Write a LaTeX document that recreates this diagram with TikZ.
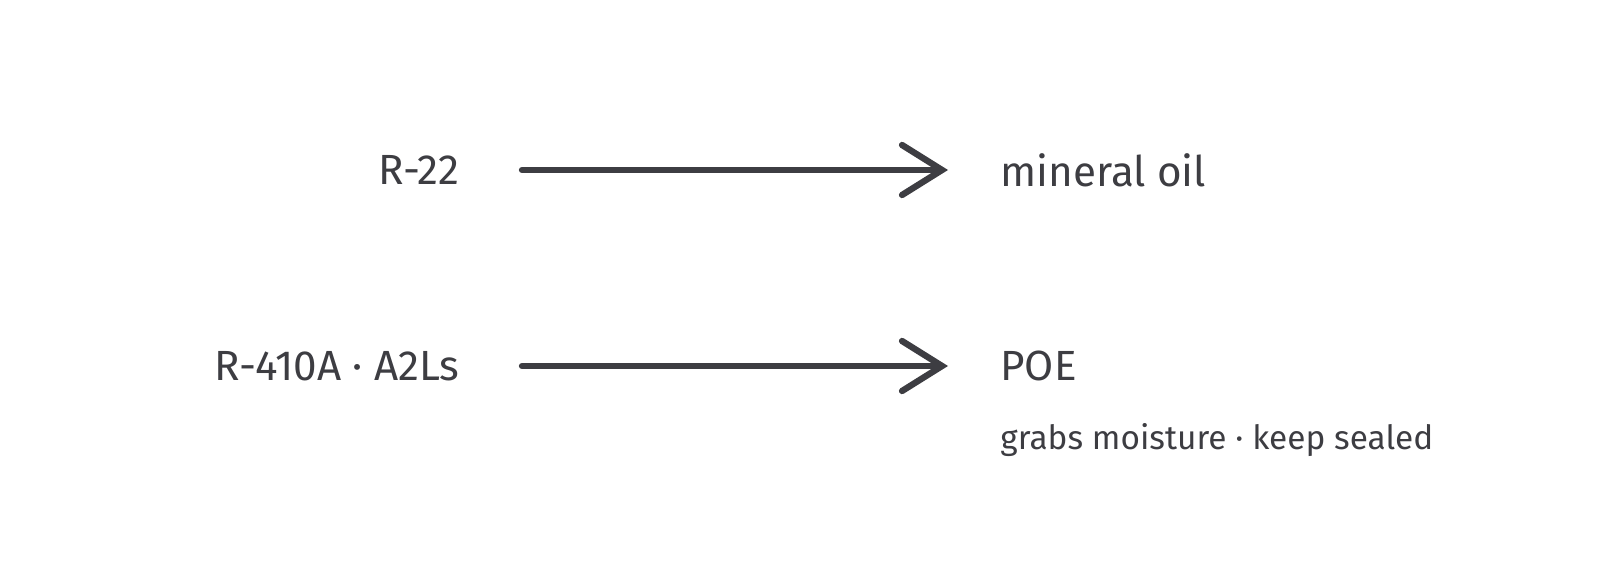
\documentclass[tikz,border=0pt]{standalone}
\usepackage{fontspec}
\setmainfont{Fira Sans}
\usetikzlibrary{positioning, arrows.meta}
\definecolor{ink}{HTML}{3D3D42}

\begin{document}
\begin{tikzpicture}[
    arrow/.style={-{Straight Barb[length=4mm, width=5mm, line cap=round]}, line width=1.8pt, line cap=round, ink},
    src/.style={anchor=east, text=ink, font=\large},
    dst/.style={anchor=west, text=ink, font=\large},
    note/.style={anchor=west, text=ink, font=\fontsize{9.5}{11}\selectfont}
]

    \useasboundingbox (0, 0) rectangle (16, 5.6);

    % Rows
    \node[src] (r22) at (4.72, 3.9) {R-22};
    \node[dst] (oil) at (9.88, 3.9) {mineral oil};
    \node[src] (r410) at (4.72, 1.94) {R-410A · A2Ls};
    \node[dst] (poe) at (9.88, 1.94) {POE};
    \node[note] (hint) at (9.88, 1.2) {grabs moisture · keep sealed};

    % Arrows
    \coordinate (a1) at (5.22, 3.9);
    \coordinate (b1) at (9.48, 3.9);
    \coordinate (a2) at (5.22, 1.94);
    \coordinate (b2) at (9.48, 1.94);
    \draw[arrow] (a1) -- (b1);
    \draw[arrow] (a2) -- (b2);

\end{tikzpicture}
\end{document}
